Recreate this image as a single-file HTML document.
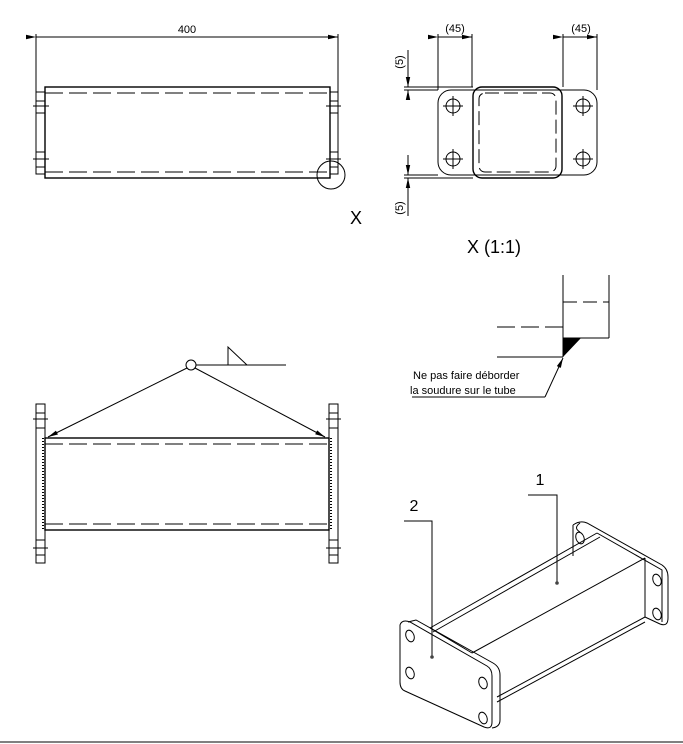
<!DOCTYPE html>
<html><head><meta charset="utf-8"><style>
html,body{margin:0;padding:0;background:#fff}
svg{display:block}
text{font-family:"Liberation Sans",sans-serif;fill:#000}
</style></head><body>
<svg width="683" height="744" viewBox="0 0 683 744" xmlns="http://www.w3.org/2000/svg">
<defs>
<marker id="ar" markerWidth="10" markerHeight="6" refX="10" refY="3" orient="auto" markerUnits="userSpaceOnUse"><path d="M0,0.8 L10,3 L0,5.2z" fill="#000"/></marker>
</defs>
<g fill="none" stroke="#000" stroke-width="1">
<!-- TOP LEFT VIEW -->
<line x1="36" y1="34" x2="36" y2="174"/>
<line x1="338" y1="34" x2="338" y2="174"/>
<line x1="36" y1="37" x2="338" y2="37" marker-end="url(#ar)" marker-start="url(#ar)" />
<rect x="45" y="87" width="285" height="91" stroke-width="1.4"/>
<line x1="45" y1="93" x2="330" y2="93" stroke-dasharray="18,6"/>
<line x1="45" y1="172" x2="330" y2="172" stroke-dasharray="18,6"/>
<rect x="36" y="92" width="9" height="82"/>
<rect x="330" y="92" width="8" height="82"/>
<path d="M36 101H45M36 113H45M36 152H45M36 167H45M330 101H338M330 113H338M330 152H338M330 167H338"/>
<path d="M33 106H49M33 159H49M326 106H341M326 159H341"/>
<circle cx="331" cy="175" r="14"/>
<!-- TOP RIGHT VIEW -->
<rect x="438" y="90" width="159" height="85" rx="13"/>
<rect x="473" y="87" width="89" height="91" rx="9" stroke-width="1.4"/>
<rect x="479" y="93" width="77" height="79" rx="6" stroke-dasharray="14,5"/>
<g>
<circle cx="453" cy="106" r="7"/><circle cx="453" cy="159" r="7"/>
<circle cx="583" cy="106" r="7"/><circle cx="583" cy="159" r="7"/>
<path d="M443 106H463M453 96V116M443 159H463M453 149V169M573 106H593M583 96V116M573 159H593M583 149V169"/>
</g>
<path d="M438 34V90M472 34V87M563 34V87M597 34V90"/>
<line x1="438" y1="37" x2="472" y2="37" marker-end="url(#ar)" marker-start="url(#ar)"/>
<line x1="563" y1="37" x2="597" y2="37" marker-end="url(#ar)" marker-start="url(#ar)"/>
<path d="M404 87H473M404 90H438M404 175H438M404 178H473"/>
<line x1="408" y1="50" x2="408" y2="87" marker-end="url(#ar)"/>
<line x1="408" y1="100" x2="408" y2="90" marker-end="url(#ar)"/>
<line x1="408" y1="155" x2="408" y2="175" marker-end="url(#ar)"/>
<line x1="408" y1="216" x2="408" y2="178" marker-end="url(#ar)"/>
<!-- DETAIL X -->
<path d="M563 275V357M609 275V338M563 338H609"/>
<line x1="563" y1="302" x2="609" y2="302" stroke-dasharray="14,6"/>
<line x1="497" y1="327" x2="563" y2="327" stroke-dasharray="18,6"/>
<line x1="497" y1="357" x2="563" y2="357"/>
<line x1="545" y1="397" x2="563" y2="358" marker-end="url(#ar)"/>
<line x1="412" y1="397" x2="545" y2="397"/>
<!-- BOTTOM LEFT VIEW -->
<rect x="45" y="438" width="284" height="92" stroke-width="1.4"/>
<line x1="45" y1="444" x2="329" y2="444" stroke-dasharray="18,6"/>
<line x1="45" y1="524" x2="329" y2="524" stroke-dasharray="18,6"/>
<rect x="36" y="404" width="9" height="159"/>
<rect x="329" y="404" width="9" height="159"/>
<path d="M36 413H45M36 428H45M36 540H45M36 555H45M329 413H338M329 428H338M329 540H338M329 555H338"/>
<path d="M33 419H48M33 548H48M326 419H341M326 548H341"/>
<line x1="43" y1="438" x2="43" y2="530" stroke-dasharray="1,2" stroke-width="2"/>
<line x1="331" y1="438" x2="331" y2="530" stroke-dasharray="1,2" stroke-width="2"/>
<circle cx="191" cy="365" r="5"/>
<line x1="196" y1="365" x2="286" y2="365"/>
<path d="M228 347V365H247Z"/>
<line x1="187" y1="368" x2="48" y2="437" marker-end="url(#ar)"/>
<line x1="195" y1="368" x2="325" y2="437" marker-end="url(#ar)"/>
<!-- ISOMETRIC -->
<path d="M573 525Q580 520 587 523L662 565Q668 569 668 577V618Q668 627 660 624L645 617"/>
<path d="M573 525V556"/>
<path d="M580 523Q573 528 580 532" />
<path d="M597 533L662 570V622"/>
<ellipse cx="580" cy="538" rx="4" ry="6" transform="rotate(-20 580 538)"/>
<ellipse cx="657" cy="580" rx="4" ry="6" transform="rotate(-20 657 580)"/>
<ellipse cx="657" cy="614" rx="4" ry="6" transform="rotate(-20 657 614)"/>
<path d="M430 628L597 533M433 632L600 537M472 653L645 558M645 558V617M497 697L645 617M497 702L645 622M430 628L472 653"/>
<path d="M400 625Q402 619 410 622L487 666Q492 669 492 676V722Q492 730 484 727L405 691Q400 689 400 682Z"/>
<path d="M408 622L416 620L493 663Q500 667 500 675V720Q500 727 492 728"/>
<ellipse cx="410" cy="636" rx="4" ry="6" transform="rotate(-20 410 636)"/>
<ellipse cx="410" cy="673" rx="4" ry="6" transform="rotate(-20 410 673)"/>
<ellipse cx="483" cy="683" rx="4" ry="6" transform="rotate(-20 483 683)"/>
<ellipse cx="483" cy="718" rx="4" ry="6" transform="rotate(-20 483 718)"/>
<path d="M528 495H557V583M404 521H432V657"/>
<line x1="0" y1="742" x2="683" y2="742"/>
</g>
<path d="M563 338L581 338L563 357Z" fill="#000"/>
<circle cx="557" cy="583" r="1.8" fill="#444"/>
<circle cx="432" cy="657" r="1.8" fill="#444"/>
<text x="187" y="33" font-size="11" text-anchor="middle">400</text>
<text x="455" y="32" font-size="11" text-anchor="middle">(45)</text>
<text x="581" y="32" font-size="11" text-anchor="middle">(45)</text>
<text transform="translate(403 62) rotate(-90)" font-size="11" text-anchor="middle">(5)</text>
<text transform="translate(403 208) rotate(-90)" font-size="11" text-anchor="middle">(5)</text>
<text x="350" y="224" font-size="18">X</text>
<text x="467" y="253" font-size="18">X (1:1)</text>
<text x="413" y="379" font-size="11">Ne pas faire déborder</text>
<text x="410" y="394" font-size="11">la soudure sur le tube</text>
<text x="540" y="485" font-size="16" text-anchor="middle">1</text>
<text x="414" y="511" font-size="16" text-anchor="middle">2</text>
</svg>
</body></html>
